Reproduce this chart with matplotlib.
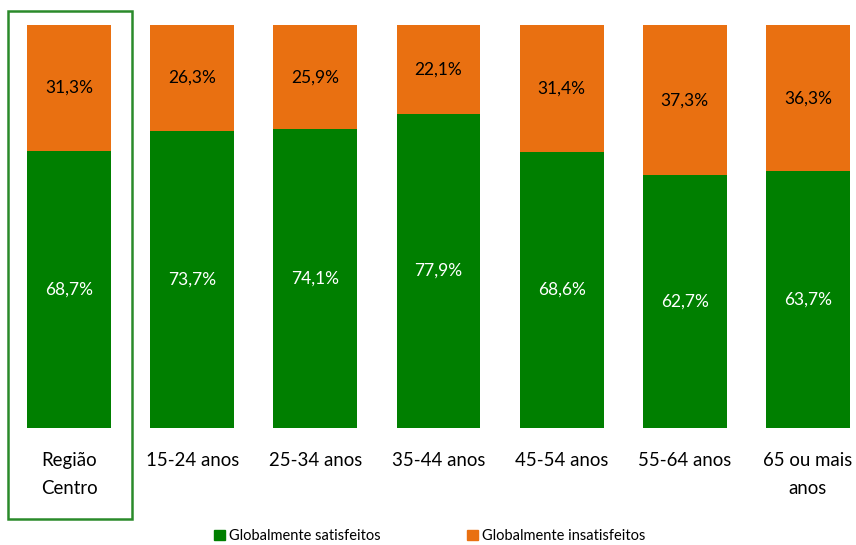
import matplotlib
matplotlib.use("Agg")
import matplotlib.pyplot as plt
from matplotlib.patches import Rectangle, Patch

plt.rcParams['font.family'] = ['Lato', 'DejaVu Sans']

categories = ["Região\nCentro", "15-24 anos", "25-34 anos", "35-44 anos",
              "45-54 anos", "55-64 anos", "65 ou mais\nanos"]
satisfeitos = [68.7, 73.7, 74.1, 77.9, 68.6, 62.7, 63.7]
insatisfeitos = [31.3, 26.3, 25.9, 22.1, 31.4, 37.3, 36.3]

green = "#007F00"
orange = "#E97011"

fig = plt.figure(figsize=(8.56, 5.45), dpi=100)
ax = fig.add_axes([0, (545 - 428) / 545, 1, 403 / 545])
x = list(range(len(categories)))
w = 0.68
ax.bar(x, satisfeitos, width=w, color=green)
ax.bar(x, insatisfeitos, width=w, bottom=satisfeitos, color=orange)

def fmt(v):
    return f"{v:.1f}".replace(".", ",") + "%"

for i in x:
    ax.text(i, satisfeitos[i] / 2, fmt(satisfeitos[i]), ha="center", va="center",
            color="white", fontsize=12.5)
    ax.text(i, satisfeitos[i] + insatisfeitos[i] / 2, fmt(insatisfeitos[i]),
            ha="center", va="center", color="black", fontsize=12.5)

ax.set_xlim(-0.56, 6.39)
ax.set_ylim(0, 100)
ax.set_xticks(x)
ax.set_xticklabels(categories, fontsize=13.4, linespacing=1.75)
ax.tick_params(axis="x", length=0, pad=17.5)
ax.set_yticks([])
for s in ax.spines.values():
    s.set_visible(False)

# highlight box around Região Centro
fig.patches.append(Rectangle((8 / 856, 1 - 519 / 545), 124 / 856, 508 / 545,
                             transform=fig.transFigure, fill=False,
                             edgecolor="#2A8A2A", linewidth=1.8))

handles = [Patch(color=green, label="Globalmente satisfeitos"),
           Patch(color=orange, label="Globalmente insatisfeitos")]
fig.legend(handles=handles, loc="center", bbox_to_anchor=(0.502, 1 - 536 / 545),
           ncol=2, frameon=False, fontsize=10.5, handlelength=0.75,
           handleheight=0.75, handletextpad=0.3, columnspacing=5.9)

fig.savefig("out.png", dpi=100)
